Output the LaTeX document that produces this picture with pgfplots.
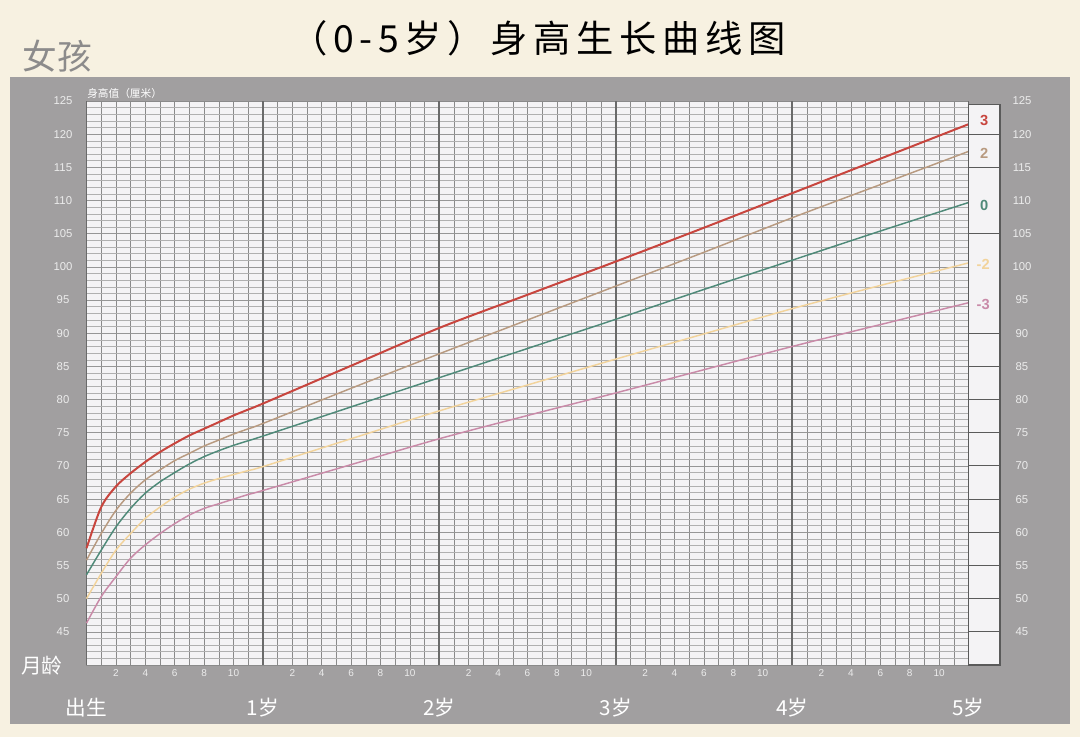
\documentclass[border=0pt]{standalone}
\usepackage{fontspec}
\setmainfont{Liberation Sans}
\newfontfamily\cjk{Noto Sans CJK SC}
\newfontfamily\cjktitle[LetterSpace=15]{Noto Sans CJK SC}
\usepackage{pgfplots}
\pgfplotsset{compat=1.18}

\definecolor{cream}{HTML}{F7F1E1}
\definecolor{panel}{HTML}{A19FA0}
\definecolor{plotbg}{HTML}{F4F3F5}
\definecolor{girlgray}{HTML}{8C8B8B}
\definecolor{ticktext}{HTML}{ECECEC}
\definecolor{gridv}{HTML}{8A8A8A}
\definecolor{gridh}{HTML}{B0B0B0}
\definecolor{gridh5}{HTML}{969696}
\definecolor{yeargrid}{HTML}{6A6A6A}
\definecolor{boxc}{HTML}{5A5A5A}
\definecolor{cred}{HTML}{C8453E}
\definecolor{ctan}{HTML}{B89A80}
\definecolor{cgreen}{HTML}{4F8A79}
\definecolor{cyellow}{HTML}{F2D39B}
\definecolor{cpink}{HTML}{C98AA8}

\begin{document}
\begin{tikzpicture}
% background and grey panel (1px = 0.75pt)
\fill[cream] (0,0) rectangle (810pt,552.75pt);
\fill[panel] (7.5pt,9.75pt) rectangle (802.5pt,495pt);

\node[font=\cjktitle\fontsize{28}{32}\selectfont, text=black] at (403.5pt,524.25pt) {（0-5岁）身高生长曲线图};
\node[font=\cjk\fontsize{26}{30}\selectfont, text=girlgray] at (42.75pt,510.75pt) {女孩};
\node[font=\cjk\fontsize{15.5}{18}\selectfont, text=white] at (31.5pt,53.25pt) {月龄};
\node[anchor=west, inner sep=0pt, font=\cjk\fontsize{8}{9}\selectfont, text=white] at (65.25pt,483pt) {身高值（厘米）};

\begin{axis}[
  at={(64.875pt,54pt)}, anchor=south west,
  scale only axis, width=661.5pt, height=423pt,
  xmin=0, xmax=60, ymin=40, ymax=125,
  clip=false,
  axis background/.style={fill=plotbg},
  axis line style={draw=gridv, line width=0.4pt},
  major tick length=0pt, minor tick length=0pt,
  xtick={2,4,6,8,10,14,16,18,20,22,26,28,30,32,34,38,40,42,44,46,50,52,54,56,58},
  xticklabels={2,4,6,8,10,2,4,6,8,10,2,4,6,8,10,2,4,6,8,10,2,4,6,8,10},
  minor xtick={1,2,...,11,13,14,...,23,25,26,...,35,37,38,...,47,49,50,...,59},
  xmajorgrids=false, xminorgrids=true,
  minor x grid style={gridv, line width=0.45pt},
  extra x ticks={0,12,24,36,48,60},
  extra x tick labels={出生,1岁,2岁,3岁,4岁,5岁},
  extra x tick style={
    xmajorgrids=true,
    major x grid style={yeargrid, line width=1.4pt},
    xticklabel style={font=\cjk\fontsize{15.5}{18}\selectfont, text=white, anchor=center, yshift=-26.25pt},
  },
  xticklabel style={font=\fontsize{7.5}{9}\selectfont, text=ticktext, anchor=center, yshift=-6pt},
  ytick={45,50,...,125},
  minor ytick={40,41,...,125},
  ymajorgrids=true, yminorgrids=true,
  major y grid style={gridh5, line width=0.45pt},
  minor y grid style={gridh, line width=0.4pt},
  yticklabel style={font=\fontsize{8.5}{10}\selectfont, text=ticktext, anchor=center, xshift=-17.6pt},
  /pgf/number format/assume math mode=true,
]
% +3 SD
\addplot[cred, line width=1.5pt, smooth] coordinates {
  (0,57.6) (1,63.8) (2,66.9) (3,68.9) (4,70.6) (5,72.1) (6,73.4) (7,74.6)
  (8,75.6) (9,76.6) (10,77.6) (11,78.5) (12,79.4) (18,85.1)
  (24,90.8) (30,95.8) (36,100.8) (42,105.9) (48,111.1) (54,116.3) (60,121.5)
};
% +2 SD
\addplot[ctan, line width=1.1pt, smooth] coordinates {
  (0,55.8) (1,59.8) (2,63.3) (3,65.9) (4,67.9) (5,69.4) (6,70.8) (7,71.9)
  (8,73.0) (9,73.9) (10,74.8) (11,75.6) (12,76.4) (18,81.7)
  (24,86.9) (30,92.0) (36,97.1) (42,102.2) (48,107.4) (54,112.4) (60,117.4)
};
% median
\addplot[cgreen, line width=1.1pt, smooth] coordinates {
  (0,53.6) (1,57.3) (2,60.8) (3,63.6) (4,65.9) (5,67.6) (6,69.0) (7,70.3)
  (8,71.4) (9,72.3) (10,73.1) (11,73.8) (12,74.5) (18,78.9)
  (24,83.3) (30,87.7) (36,92.1) (42,96.6) (48,101.0) (54,105.4) (60,109.7)
};
% -2 SD
\addplot[cyellow, line width=1.1pt, smooth] coordinates {
  (0,50.0) (1,53.8) (2,57.3) (3,59.8) (4,62.1) (5,63.8) (6,65.3) (7,66.5)
  (8,67.4) (9,68.1) (10,68.7) (11,69.3) (12,69.9) (18,74.1)
  (24,78.3) (30,82.2) (36,86.1) (42,89.9) (48,93.7) (54,97.2) (60,100.6)
};
% -3 SD
\addplot[cpink, line width=1.1pt, smooth] coordinates {
  (0,46.3) (1,50.3) (2,53.3) (3,56.1) (4,58.1) (5,59.8) (6,61.3) (7,62.6)
  (8,63.6) (9,64.3) (10,65.0) (11,65.7) (12,66.3) (18,70.2)
  (24,74.1) (30,77.6) (36,81.0) (42,84.5) (48,88.0) (54,91.3) (60,94.6)
};

% label column on the right
\fill[plotbg] (axis cs:60,40) rectangle (axis cs:62.14,124.5);
\draw[boxc, line width=0.8pt] (axis cs:60,40) rectangle (axis cs:62.14,124.5);
\draw[boxc, line width=0.8pt]
  (axis cs:60,45) -- (axis cs:62.14,45)
  (axis cs:60,50) -- (axis cs:62.14,50)
  (axis cs:60,55) -- (axis cs:62.14,55)
  (axis cs:60,60) -- (axis cs:62.14,60)
  (axis cs:60,65) -- (axis cs:62.14,65)
  (axis cs:60,70) -- (axis cs:62.14,70)
  (axis cs:60,75) -- (axis cs:62.14,75)
  (axis cs:60,80) -- (axis cs:62.14,80)
  (axis cs:60,85) -- (axis cs:62.14,85)
  (axis cs:60,90) -- (axis cs:62.14,90)
  (axis cs:60,105) -- (axis cs:62.14,105)
  (axis cs:60,115) -- (axis cs:62.14,115)
  (axis cs:60,120) -- (axis cs:62.14,120);
\node[font=\bfseries\fontsize{11}{12}\selectfont, text=cred] at (axis cs:61.07,122.1) {3};
\node[font=\bfseries\fontsize{11}{12}\selectfont, text=ctan] at (axis cs:61.07,117.1) {2};
\node[font=\bfseries\fontsize{11}{12}\selectfont, text=cgreen] at (axis cs:61.07,109.3) {0};
\node[font=\bfseries\fontsize{11}{12}\selectfont, text=cyellow] at (axis cs:61.0,100.4) {-2};
\node[font=\bfseries\fontsize{11}{12}\selectfont, text=cpink] at (axis cs:61.0,94.4) {-3};
\end{axis}

% right-hand height numbers
\begin{axis}[
  at={(64.875pt,54pt)}, anchor=south west,
  scale only axis, width=661.5pt, height=423pt,
  xmin=0, xmax=60, ymin=40, ymax=125,
  hide x axis, axis y line*=right,
  axis line style={draw=none},
  major tick length=0pt,
  ytick={45,50,...,125},
  yticklabel style={font=\fontsize{8.5}{10}\selectfont, text=ticktext, anchor=center, xshift=40.1pt},
  /pgf/number format/assume math mode=true,
]
\addplot[draw=none] coordinates {(0,40) (60,125)};
\end{axis}
\end{tikzpicture}
\end{document}
